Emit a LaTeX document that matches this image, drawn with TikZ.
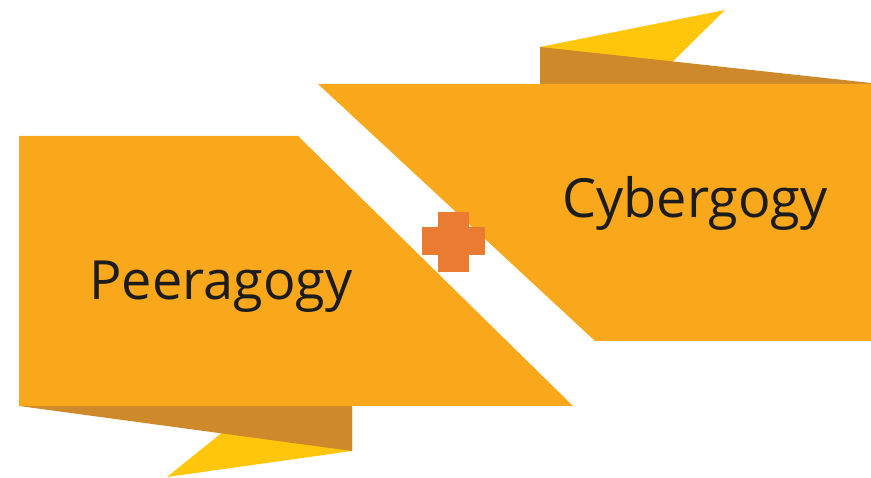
\documentclass[tikz,border=0pt]{standalone}
\usepackage{fontspec}
\setmainfont{Open Sans}
\usepackage{tikz}

\definecolor{ribbon}{HTML}{F9A71B}
\definecolor{foldshade}{HTML}{CE8A2A}
\definecolor{foldtip}{HTML}{FFC60B}
\definecolor{plusmark}{HTML}{E97C30}
\definecolor{labeltext}{HTML}{1C1C1C}

\begin{document}
\begin{tikzpicture}[
            x=1pt, y=-1pt, % pixel grid, y going down
            ribbonlabel/.style={text=labeltext, font=\fontsize{54}{64}\selectfont, inner sep=0pt, anchor=base} % Text on the ribbons
            ]

                \useasboundingbox (0,0) rectangle (871,478);

                % Left ribbon: fold tip, shaded fold, then the band
                \fill[foldtip] (167,477) -- (352,451) -- (352,406) -- (255,406) -- cycle;
                \fill[foldshade] (19,406) -- (352,451) -- (352,406) -- cycle;
                \fill[ribbon] (19,136) -- (298,136) -- (573,406) -- (19,406) -- cycle;

                % Right ribbon: fold tip, shaded fold, then the band
                \fill[foldtip] (540,47) -- (725,10) -- (650,84) -- (540,84) -- cycle;
                \fill[foldshade] (540,84) -- (540,47) -- (871,83) -- (871,84) -- cycle;
                \fill[ribbon] (318,84) -- (871,84) -- (871,341) -- (595,341) -- cycle;

                % Plus sign in the gap
                \fill[plusmark] (422,227) rectangle (485,255);
                \fill[plusmark] (438,212) rectangle (469,272);

                \node[ribbonlabel] (peeragogy) at (221,300) {Peeragogy};
                \node[ribbonlabel] (cybergogy) at (695,218) {Cybergogy};

            \end{tikzpicture}
\end{document}
